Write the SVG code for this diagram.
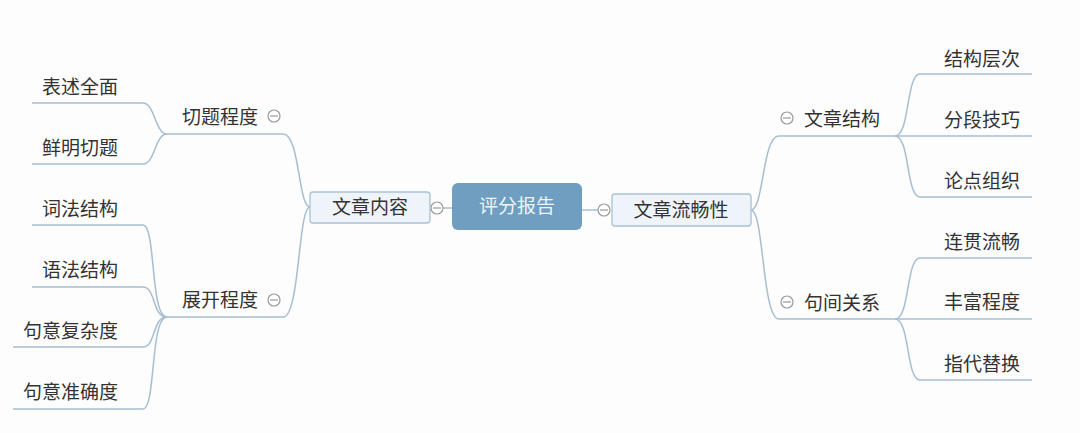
<svg xmlns="http://www.w3.org/2000/svg" width="1080" height="433" viewBox="0 0 1080 433">
<style>
text{font-family:"Noto Sans CJK SC","Noto Sans",sans-serif;font-size:19px;fill:#333;}
.c{fill:none;stroke:#a7bed1;stroke-width:1.5;}
.box{fill:#eef4f9;stroke:#a9c1d4;stroke-width:1.3;}
.tog{fill:#fff;stroke:#9a9a9a;stroke-width:1.2;}
.tl{stroke:#9a9a9a;stroke-width:1.2;}
</style>
<rect width="1080" height="433" fill="#fdfdfe"/>
<g id="connectors">
<path class="c" d="M452,208 H443"/>
<path class="c" d="M582,210 H598"/>
<path class="c" d="M310,207 C298,207 300,134 283,134 H167"/>
<path class="c" d="M310,207 C298,207 300,317 283,317 H167"/>
<path class="c" d="M167,134 C155,134 155,103 143,103 H32"/>
<path class="c" d="M167,134 C155,134 155,164 143,164 H32"/>
<path class="c" d="M167,317 C150,317 156,225 143,225 H32"/>
<path class="c" d="M167,317 C152,317 156,287 143,287 H32"/>
<path class="c" d="M167,317 C152,317 156,347 143,347 H13"/>
<path class="c" d="M167,317 C150,317 156,409 143,409 H13"/>
<path class="c" d="M751,210 C764,210 762,136 779,136 H895"/>
<path class="c" d="M751,210 C764,210 762,319 779,319 H895"/>
<path class="c" d="M895,136 C910,136 906,74 920,74 H1032"/>
<path class="c" d="M895,136 H1032"/>
<path class="c" d="M895,136 C910,136 906,197 920,197 H1032"/>
<path class="c" d="M895,319 C910,319 906,258 920,258 H1032"/>
<path class="c" d="M895,319 H1032"/>
<path class="c" d="M895,319 C910,319 906,380 920,380 H1032"/>
</g>
<g id="root">
<rect x="452" y="183" width="130" height="47" rx="6" fill="#6f9ec0"/>
<text x="517" y="213" text-anchor="middle" style="fill:#eef4f8">评分报告</text>
</g>
<g id="n-content">
<rect class="box" x="310" y="192" width="120" height="31" rx="3"/>
<text x="370" y="214" text-anchor="middle">文章内容</text>
<circle class="tog" cx="437" cy="208" r="6"/><path class="tl" d="M433,208 H441"/>
</g>
<g id="n-fluency">
<rect class="box" x="612" y="194" width="139" height="32" rx="3"/>
<text x="681" y="217" text-anchor="middle">文章流畅性</text>
<circle class="tog" cx="604" cy="210" r="6"/><path class="tl" d="M600,210 H608"/>
</g>
<g id="n-qieti">
<text x="182" y="124">切题程度</text>
<circle class="tog" cx="274" cy="116" r="6"/><path class="tl" d="M270,116 H278"/>
</g>
<g id="n-zhankai">
<text x="182" y="307">展开程度</text>
<circle class="tog" cx="274" cy="300" r="6"/><path class="tl" d="M270,300 H278"/>
</g>
<g id="n-biaoshu"><text x="42" y="94">表述全面</text></g>
<g id="n-xianming"><text x="42" y="155">鲜明切题</text></g>
<g id="n-cifa"><text x="42" y="216">词法结构</text></g>
<g id="n-yufa"><text x="42" y="277">语法结构</text></g>
<g id="n-fuza"><text x="23" y="338">句意复杂度</text></g>
<g id="n-zhunque"><text x="23" y="399">句意准确度</text></g>
<g id="n-jiegou">
<circle class="tog" cx="787" cy="118" r="6"/><path class="tl" d="M783,118 H791"/>
<text x="804" y="126">文章结构</text>
</g>
<g id="n-juji">
<circle class="tog" cx="787" cy="302" r="6"/><path class="tl" d="M783,302 H791"/>
<text x="804" y="310">句间关系</text>
</g>
<g id="n-cengci"><text x="944" y="66">结构层次</text></g>
<g id="n-fenduan"><text x="944" y="127">分段技巧</text></g>
<g id="n-lundian"><text x="944" y="188">论点组织</text></g>
<g id="n-lianguan"><text x="944" y="249">连贯流畅</text></g>
<g id="n-fengfu"><text x="944" y="309">丰富程度</text></g>
<g id="n-zhidai"><text x="944" y="371">指代替换</text></g>
</svg>
